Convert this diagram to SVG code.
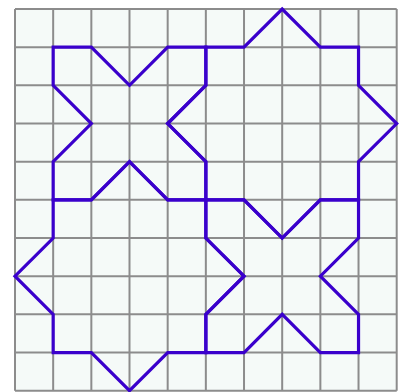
<svg xmlns="http://www.w3.org/2000/svg" width="402" height="392" viewBox="0 0 402 392">
<style>
.grid line{stroke:#8c8c8c;stroke-width:2}
.shape{fill:none;stroke:#3a00cc;stroke-width:3.2;stroke-linejoin:miter}
</style>
<rect width="402" height="392" fill="#ffffff"/>
<rect x="15" y="9" width="381.7" height="381.7" fill="#f5faf8"/>
<g class="grid" id="grid">
<line x1="15" y1="9" x2="15" y2="390.7"/>
<line x1="53.17" y1="9" x2="53.17" y2="390.7"/>
<line x1="91.34" y1="9" x2="91.34" y2="390.7"/>
<line x1="129.51" y1="9" x2="129.51" y2="390.7"/>
<line x1="167.68" y1="9" x2="167.68" y2="390.7"/>
<line x1="205.85" y1="9" x2="205.85" y2="390.7"/>
<line x1="244.02" y1="9" x2="244.02" y2="390.7"/>
<line x1="282.19" y1="9" x2="282.19" y2="390.7"/>
<line x1="320.36" y1="9" x2="320.36" y2="390.7"/>
<line x1="358.53" y1="9" x2="358.53" y2="390.7"/>
<line x1="396.7" y1="9" x2="396.7" y2="390.7"/>
<line x1="15" y1="9" x2="396.7" y2="9"/>
<line x1="15" y1="47.17" x2="396.7" y2="47.17"/>
<line x1="15" y1="85.34" x2="396.7" y2="85.34"/>
<line x1="15" y1="123.51" x2="396.7" y2="123.51"/>
<line x1="15" y1="161.68" x2="396.7" y2="161.68"/>
<line x1="15" y1="199.85" x2="396.7" y2="199.85"/>
<line x1="15" y1="238.02" x2="396.7" y2="238.02"/>
<line x1="15" y1="276.19" x2="396.7" y2="276.19"/>
<line x1="15" y1="314.36" x2="396.7" y2="314.36"/>
<line x1="15" y1="352.53" x2="396.7" y2="352.53"/>
<line x1="15" y1="390.7" x2="396.7" y2="390.7"/>
</g>
<g id="shape-top-left">
<polygon class="shape" points="53.17,47.17 91.34,47.17 129.51,85.34 167.68,47.17 205.85,47.17 205.85,85.34 167.68,123.51 205.85,161.68 205.85,199.85 167.68,199.85 129.51,161.68 91.34,199.85 53.17,199.85 53.17,161.68 91.34,123.51 53.17,85.34"/>
</g>
<g id="shape-top-right">
<polygon class="shape" points="205.85,47.17 244.02,47.17 282.19,9 320.36,47.17 358.53,47.17 358.53,85.34 396.7,123.51 358.53,161.68 358.53,199.85 320.36,199.85 282.19,238.02 244.02,199.85 205.85,199.85 205.85,161.68 167.68,123.51 205.85,85.34"/>
</g>
<g id="shape-bottom-right">
<polygon class="shape" points="205.85,199.85 244.02,199.85 282.19,238.02 320.36,199.85 358.53,199.85 358.53,238.02 320.36,276.19 358.53,314.36 358.53,352.53 320.36,352.53 282.19,314.36 244.02,352.53 205.85,352.53 205.85,314.36 244.02,276.19 205.85,238.02"/>
</g>
<g id="shape-bottom-left">
<polygon class="shape" points="53.17,199.85 91.34,199.85 129.51,161.68 167.68,199.85 205.85,199.85 205.85,238.02 244.02,276.19 205.85,314.36 205.85,352.53 167.68,352.53 129.51,390.7 91.34,352.53 53.17,352.53 53.17,314.36 15,276.19 53.17,238.02"/>
</g>
</svg>
